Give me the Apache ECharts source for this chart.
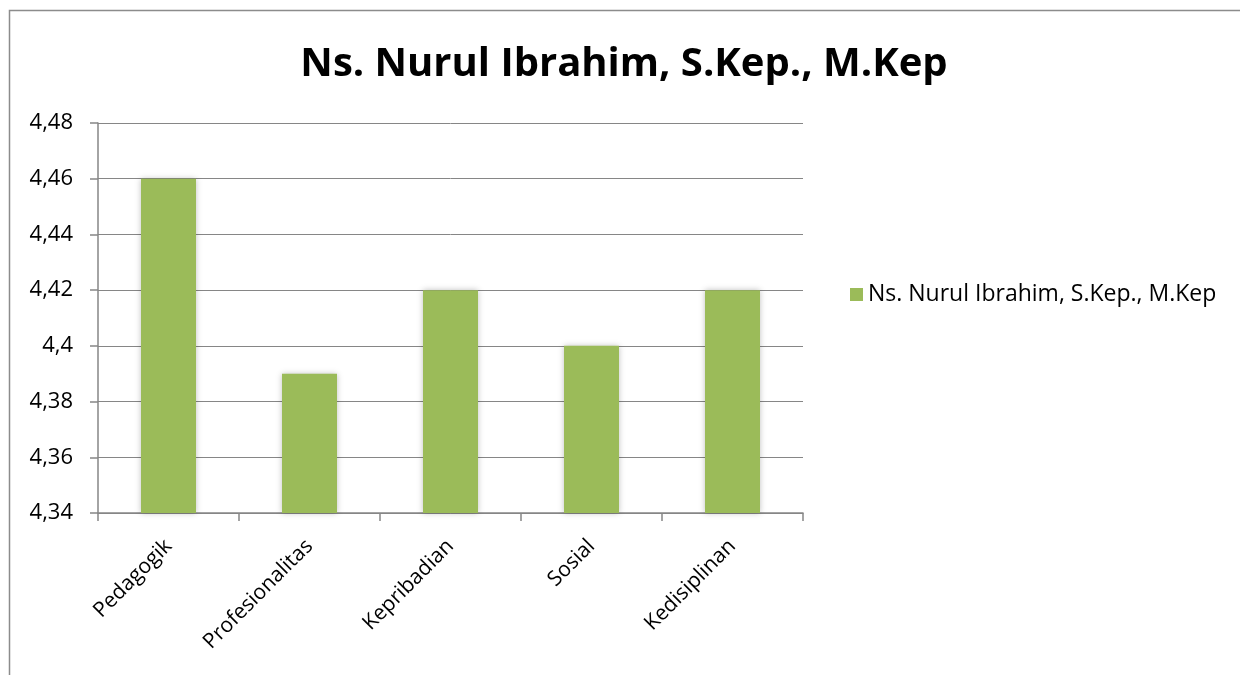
<!DOCTYPE html>
<html>
<head>
<meta charset="utf-8">
<script src="https://cdn.jsdelivr.net/npm/echarts@6/dist/echarts.min.js"></script>
<style>
  html, body { margin: 0; padding: 0; background: #fff; }
  #chart { width: 1240px; height: 675px; }
</style>
</head>
<body>
<div id="chart"></div>
<script>
// data
var titleText = 'Ns. Nurul Ibrahim, S.Kep., M.Kep';
var categories = ['Pedagogik', 'Profesionalitas', 'Kepribadian', 'Sosial', 'Kedisiplinan'];
var nilai = [4.46, 4.39, 4.42, 4.40, 4.42];

var chart = echarts.init(document.getElementById('chart'));
var fontName = 'Open Sans';

var option = {
  backgroundColor: '#fff',
  animation: false,
  title: {
    text: titleText,
    left: 619,
    top: 40,
    textAlign: 'center',
    textStyle: { fontFamily: fontName, fontWeight: 'bold', fontSize: 40, color: '#000' }
  },
  legend: {
    data: [titleText],
    left: 845,
    top: 278,
    icon: 'rect',
    itemWidth: 13,
    itemHeight: 13,
    itemGap: 8,
    textStyle: { fontFamily: fontName, fontSize: 23, color: '#000' }
  },
  grid: { left: 98, right: 437, top: 123, bottom: 162 },
  xAxis: {
    type: 'category',
    data: categories,
    axisLine: { lineStyle: { color: '#868686', width: 1.5 } },
    axisTick: { show: true, length: 8, lineStyle: { color: '#868686', width: 1.5 } },
    axisLabel: { rotate: 45, margin: 30, fontFamily: fontName, fontSize: 21, color: '#000' }
  },
  yAxis: {
    type: 'value',
    min: 4.34,
    max: 4.48,
    interval: 0.02,
    axisLine: { show: true, lineStyle: { color: '#868686', width: 1.5 } },
    axisTick: { show: true, length: 8, lineStyle: { color: '#868686', width: 1.5 } },
    splitLine: { lineStyle: { color: '#868686', width: 1 } },
    axisLabel: {
      margin: 25,
      fontFamily: fontName,
      fontSize: 22,
      color: '#000',
      formatter: function (v) {
        return String(Number(v.toFixed(2))).replace('.', ',');
      }
    }
  },
  series: [{
    name: titleText,
    type: 'bar',
    data: nilai,
    barWidth: 55,
    itemStyle: {
      color: '#9BBB59',
      shadowColor: 'rgba(0,0,0,0.25)',
      shadowBlur: 6
    }
  }],
  graphic: [{
    type: 'rect',
    shape: { x: 9.5, y: 10.5, width: 1300, height: 700 },
    style: { fill: 'none', stroke: '#8c8c8c', lineWidth: 1.5 },
    silent: true
  }]
};

chart.setOption(option);
</script>
</body>
</html>
